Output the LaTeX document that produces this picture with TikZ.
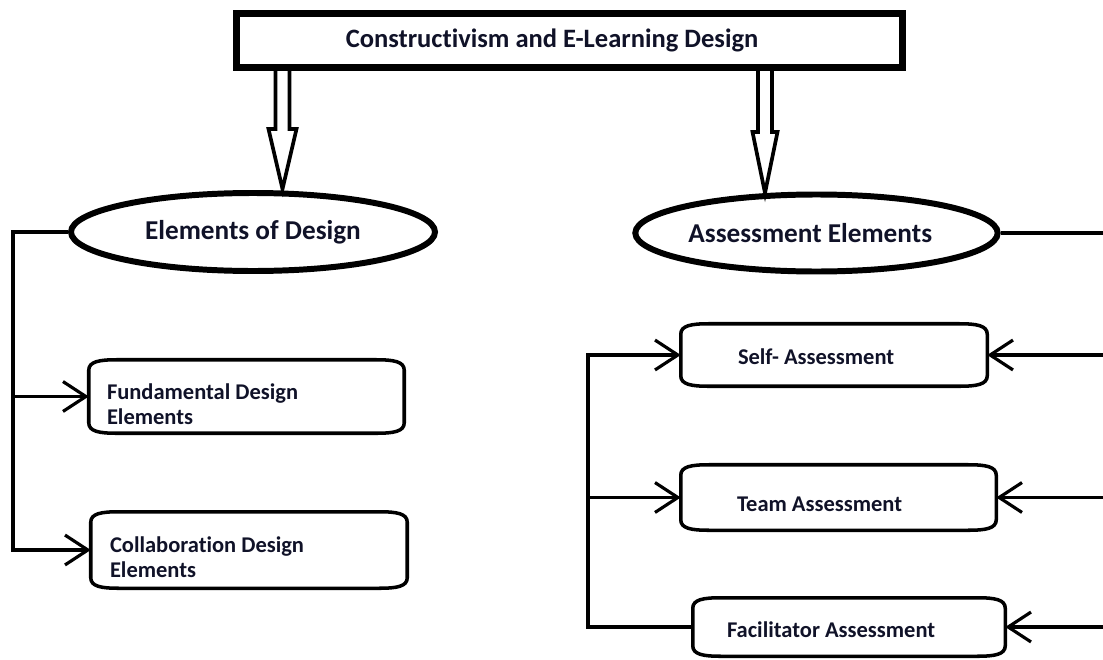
\documentclass[tikz,border=0pt]{standalone}
\usepackage{fontspec}
\setmainfont{Carlito}[Ligatures=NoCommon]
\usetikzlibrary{shapes.geometric, arrows.meta, positioning}

\definecolor{ink}{RGB}{16,18,40}

\tikzset{
  titlebox/.style={rectangle, draw, line width=4pt, minimum height=1.08cm,
    inner ysep=0pt, align=flush left, text=ink,
    font=\fontsize{15.1}{18}\selectfont\bfseries},
  oval/.style={ellipse, draw, line width=3.4pt, inner sep=0pt, text=ink,
    font=\fontsize{15.5}{18}\selectfont\bfseries},
  softbox/.style={rectangle, inner ysep=0pt, outer sep=0pt, align=flush left,
    text=ink, font=\fontsize{12.8}{14.2}\selectfont\bfseries},
  boxline/.style={line width=2pt},
  wire/.style={line width=1.8pt},
  openhead/.style={-{Straight Barb[length=13pt,width=17pt]}},
  hollow/.style={line width=2.1pt, line join=miter}
}

% box outline with flattened corners
\newcommand{\softedge}[1]{%
  \draw[boxline]
    ([yshift=-6pt]#1.north west)
      .. controls ([yshift=-1pt]#1.north west) and ([xshift=6pt]#1.north west) .. ([xshift=16pt]#1.north west)
    -- ([xshift=-16pt]#1.north east)
      .. controls ([xshift=-6pt]#1.north east) and ([yshift=-1pt]#1.north east) .. ([yshift=-6pt]#1.north east)
    -- ([yshift=6pt]#1.south east)
      .. controls ([yshift=1pt]#1.south east) and ([xshift=-6pt]#1.south east) .. ([xshift=-16pt]#1.south east)
    -- ([xshift=16pt]#1.south west)
      .. controls ([xshift=6pt]#1.south west) and ([yshift=1pt]#1.south west) .. ([yshift=6pt]#1.south west)
    -- cycle;}

\begin{document}
\begin{tikzpicture}
        \useasboundingbox (0,0) rectangle (22.06,13.18);

        % Top title
        \node[titlebox, text width=8.95cm, inner xsep=2.19cm] (title) at (11.39, 12.37)
            {Constructivism and E-Learning Design};

        % Hollow arrows down to the two branches
        \coordinate (tipL) at (5.65, 9.40);
        \coordinate (tipR) at (15.30, 9.32);
        \draw[hollow] (tipL) -- ++(-0.28,1.2) -- ++(0.14,0) -- ++(0,1.23)
            -- ++(0.28,0) -- ++(0,-1.23) -- ++(0.14,0) -- cycle;
        \draw[hollow] (tipR) -- ++(-0.25,1.22) -- ++(0.11,0) -- ++(0,1.29)
            -- ++(0.28,0) -- ++(0,-1.29) -- ++(0.11,0) -- cycle;

        % Branch headings
        \node[oval, minimum width=7.28cm, minimum height=1.56cm] (design) at (5.06, 8.54)
            {Elements of Design};
        \node[oval, minimum width=7.22cm, minimum height=1.54cm] (assess) at (16.33, 8.52)
            {Assessment Elements\hspace*{0.25cm}};

        % Design elements
        \node[softbox, text width=5.58cm, inner xsep=0.365cm, minimum height=1.47cm,
            text height=18pt] (fund) at (4.93, 5.25)
            {Fundamental Design\\Elements};
        \node[softbox, text width=5.56cm, inner xsep=0.385cm, minimum height=1.53cm,
            text height=17.6pt] (collab) at (4.98, 2.18)
            {Collaboration Design\\Elements};
        \softedge{fund}
        \softedge{collab}

        % Assessment elements
        \node[softbox, text width=3.84cm, inner xsep=1.145cm, minimum height=1.25cm,
            text height=11.4pt] (self) at (16.68, 6.08)
            {Self- Assessment};
        \node[softbox, text width=4.06cm, inner xsep=1.125cm, minimum height=1.31cm,
            text height=16.5pt] (team) at (16.77, 3.23)
            {Team Assessment};
        \node[softbox, text width=4.88cm, inner xsep=0.685cm, minimum height=1.17cm,
            text height=12.5pt] (facil) at (16.98, 0.64)
            {Facilitator Assessment};
        \softedge{self}
        \softedge{team}
        \softedge{facil}

        % Left bracket
        \coordinate (lspine) at (0.26, 0);
        \draw[wire, openhead] (design.west) -| (lspine |- collab.west) -- (collab.west);
        \draw[wire, openhead] (lspine |- fund.west) -- (fund.west);

        % Right side: bracket and rail from the page edge
        \coordinate (rspine) at (11.76, 0);
        \coordinate (rail) at (22.06, 0);
        \draw[wire, openhead] (facil.west) -| (rspine |- self.west) -- (self.west);
        \draw[wire, openhead] (rspine |- team.west) -- (team.west);
        \draw[wire] (assess.east) -- (rail |- assess.east);
        \draw[wire, openhead] (rail |- self.east) -- (self.east);
        \draw[wire, openhead] (rail |- team.east) -- (team.east);
        \draw[wire, openhead] (rail |- facil.east) -- (facil.east);

\end{tikzpicture}
\end{document}
